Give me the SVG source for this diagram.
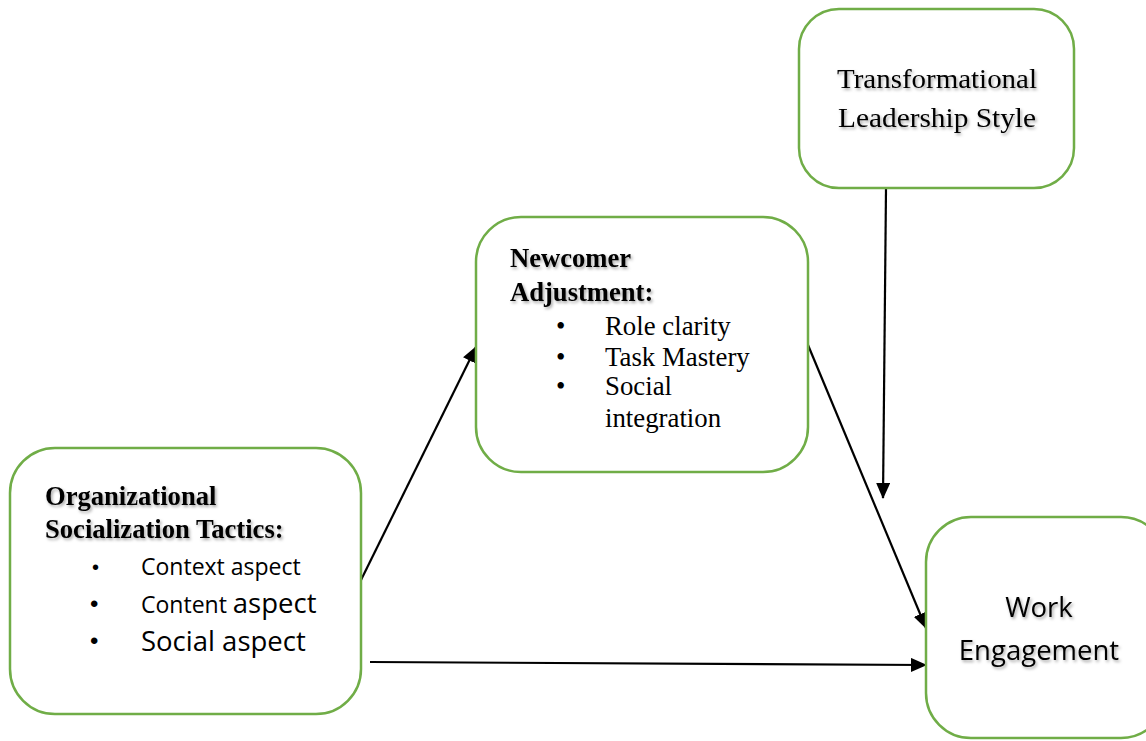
<svg xmlns="http://www.w3.org/2000/svg" width="1146" height="741" viewBox="0 0 1146 741">
<defs>
<style>
.box{fill:#fff;stroke:#70AD47;stroke-width:2.5}
.edge{stroke:#000;stroke-width:2.2;fill:none;marker-end:url(#ah)}
.tb{font-family:"Liberation Serif","Times New Roman",serif;font-weight:bold;font-size:26.6px;fill:#000}
.tr{font-family:"Liberation Serif","Times New Roman",serif;font-size:26.8px;fill:#000}
.sa{font-family:"Open Sans","Liberation Sans",sans-serif;fill:#000}
.bu{font-family:"Liberation Sans",Arial,sans-serif;fill:#000}
.sh{filter:url(#sh)}
</style>
<marker id="ah" markerWidth="16" markerHeight="14" refX="15" refY="7" orient="auto" markerUnits="userSpaceOnUse">
<path d="M0,0 L16,7 L0,14 Z" fill="#000"/>
</marker>
<filter id="sh" x="-10%" y="-30%" width="120%" height="160%">
<feDropShadow dx="1.5" dy="2" stdDeviation="1.5" flood-color="#000" flood-opacity="0.35"/>
</filter>
</defs>
<g id="connectors">
<line class="edge" x1="361" y1="580" x2="476" y2="347"/>
<line class="edge" x1="808" y1="345" x2="926" y2="628"/>
<line class="edge" x1="886" y1="189" x2="883" y2="498"/>
<line class="edge" x1="370" y1="662" x2="926" y2="665"/>
</g>
<g id="org">
<rect class="box" x="10" y="448" width="351" height="266" rx="45"/>
<g class="sh"><text class="tb" x="45" y="505">Organizational</text>
<text class="tb" x="45" y="538">Socialization Tactics:</text></g>
<text class="bu" x="92" y="574" font-size="20">•</text>
<text class="sa" x="141" y="575" font-size="23">Context aspect</text>
<text class="bu" x="90" y="612" font-size="24">•</text>
<text class="sa" x="141" y="613" font-size="23">Content <tspan font-size="27.5">aspect</tspan></text>
<text class="bu" x="90" y="649" font-size="24">•</text>
<text class="sa" x="141" y="651" font-size="27.5">Social aspect</text>
</g>
<g id="newcomer">
<rect class="box" x="476" y="217" width="332" height="255" rx="45"/>
<g class="sh"><text class="tb" x="510" y="267">Newcomer</text>
<text class="tb" x="510" y="301">Adjustment:</text></g>
<text class="tr" x="556" y="335" font-size="24">•</text>
<text class="tr" x="605" y="335">Role clarity</text>
<text class="tr" x="556" y="366" font-size="24">•</text>
<text class="tr" x="605" y="366">Task Mastery</text>
<text class="tr" x="556" y="395" font-size="24">•</text>
<text class="tr" x="605" y="395">Social</text>
<text class="tr" x="605" y="427">integration</text>
</g>
<g id="leadership">
<rect class="box" x="799" y="9" width="275" height="179" rx="40"/>
<g class="sh"><text class="tr" x="837" y="88" font-size="29" textLength="200" lengthAdjust="spacingAndGlyphs">Transformational</text>
<text class="tr" x="838" y="127" font-size="29" textLength="198" lengthAdjust="spacingAndGlyphs">Leadership Style</text></g>
</g>
<g id="engagement">
<rect class="box" x="926" y="517" width="240" height="221" rx="45"/>
<g class="sh"><text class="sa" x="1039" y="617" font-size="27.5" text-anchor="middle">Work</text>
<text class="sa" x="1039" y="660" font-size="27.5" text-anchor="middle">Engagement</text></g>
</g>
</svg>
